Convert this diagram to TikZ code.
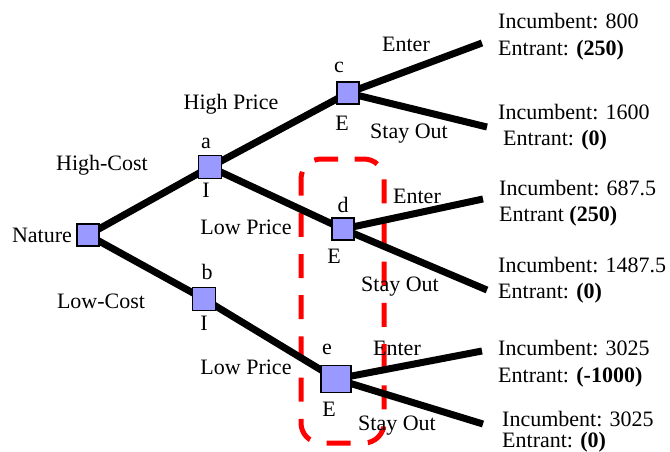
\documentclass[tikz,border=0pt]{standalone}
\usepackage{fontspec}
\setmainfont{Liberation Serif}[BoldFont={Liberation Serif Bold}]
\begin{document}
\begin{tikzpicture}[x=1pt,y=-1pt,
  dnode/.style={draw=black, line width=1.3pt, fill=blueA, minimum width=#1, minimum height=#1, inner sep=0pt},
  dnode/.default=23pt,
  lbl/.style={inner sep=0pt, font=\fontsize{22}{25}\selectfont},
  pay/.style={inner sep=0pt, anchor=base west, font=\fontsize{22}{25}\selectfont},
  branch/.style={line width=7pt, black}]
\definecolor{blueA}{RGB}{153,153,255}
\definecolor{redA}{RGB}{255,0,0}
\useasboundingbox (0,0) rectangle (670,451);
% red dashed box
\draw[redA, line width=5pt, dash pattern=on 24pt off 17.2pt, dash phase=29.2pt, rounded corners=20pt]
  (342.5,159) -- (384,159) -- (384,443) -- (301,443) -- (301,159) -- (342.5,159);
% nodes positions
\coordinate (Nc) at (88,235);
\coordinate (ac) at (210,167);
\coordinate (bc) at (204,299);
\coordinate (cc) at (348,93);
\coordinate (dc) at (343,229);
\coordinate (ec) at (336,379);
% leaf ends
\coordinate (c1) at (482,43);
\coordinate (c2) at (487,127);
\coordinate (d1) at (483,199);
\coordinate (d2) at (487,290);
\coordinate (e1) at (482,351);
\coordinate (e2) at (483,424);
% branches
\draw[branch] (Nc) -- (ac);
\draw[branch] (Nc) -- (bc);
\draw[branch] (ac) -- (cc);
\draw[branch] (ac) -- (dc);
\draw[branch] (bc) -- (ec);
\draw[branch] (cc) -- (c1);
\draw[branch] (cc) -- (c2);
\draw[branch] (dc) -- (d1);
\draw[branch] (dc) -- (d2);
\draw[branch] (ec) -- (e1);
\draw[branch] (ec) -- (e2);
% squares
\node[dnode=22pt] (N) at (Nc) {};
\node[dnode=23pt] (a) at (ac) {};
\node[dnode=23pt] (b) at (bc) {};
\node[dnode=22pt] (c) at (cc) {};
\node[dnode=22pt] (d) at (dc) {};
\node[draw=black, line width=1.3pt, fill=blueA, minimum width=30pt, minimum height=27pt, inner sep=0pt] (e) at (ec) {};
% labels
\node[lbl] (tNature) at (42,235) {Nature};
\node[lbl] (tHC) at (102,165) {High-Cost};
\node[lbl] (tLC) at (101,301) {Low-Cost};
\node[lbl] (tHP) at (231,104) {High Price};
\node[lbl] (tLP1) at (246,227) {Low Price};
\node[lbl] (tLP2) at (246,367) {Low Price};
\node[lbl] (la) at (206,143) {a};
\node[lbl] (Ia) at (206,190) {I};
\node[lbl] (lb) at (207,272) {b};
\node[lbl] (Ib) at (204,323) {I};
\node[lbl] (lc) at (339,67) {c};
\node[lbl] (Ec) at (342,123) {E};
\node[lbl] (ld) at (343,205) {d};
\node[lbl] (Ed) at (334,256) {E};
\node[lbl] (le) at (327,349) {e};
\node[lbl] (Ee) at (329,409) {E};
\node[lbl] (enc) at (406,44) {Enter};
\node[lbl] (soc) at (409,134) {Stay Out};
\node[lbl] (end) at (417,196) {Enter};
\node[lbl] (sod) at (400,287) {Stay Out};
\node[lbl] (ene) at (397,348) {Enter};
\node[lbl] (soe) at (397,426) {Stay Out};
% payoffs
\node[pay] (p1a) at (498,28) {Incumbent: 800};
\node[pay] (p1b) at (498,55) {Entrant: \textbf{(250)}};
\node[pay] (p2a) at (498,119) {Incumbent: 1600};
\node[pay] (p2b) at (503,145) {Entrant: \textbf{(0)}};
\node[pay] (p3a) at (499,195) {Incumbent: 687.5};
\node[pay] (p3b) at (499,221) {Entrant \textbf{(250)}};
\node[pay] (p4a) at (498,272) {Incumbent: 1487.5};
\node[pay] (p4b) at (498,298) {Entrant: \textbf{(0)}};
\node[pay] (p5a) at (498,355) {Incumbent: 3025};
\node[pay] (p5b) at (498,382) {Entrant: \textbf{(-1000)}};
\node[pay] (p6a) at (502,426) {Incumbent: 3025};
\node[pay] (p6b) at (502,447) {Entrant: \textbf{(0)}};
\end{tikzpicture}
\end{document}
